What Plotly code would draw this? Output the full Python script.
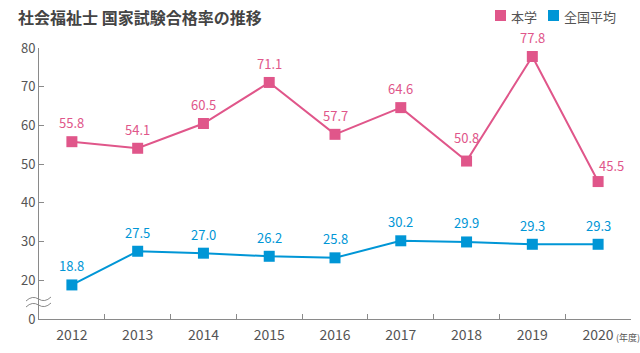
import plotly.graph_objects as go

years = ["2012", "2013", "2014", "2015", "2016", "2017", "2018", "2019", "2020"]
school = [55.8, 54.1, 60.5, 71.1, 57.7, 64.6, 50.8, 77.8, 45.5]
national = [18.8, 27.5, 27.0, 26.2, 25.8, 30.2, 29.9, 29.3, 29.3]
ytick_vals = [10, 20, 30, 40, 50, 60, 70, 80]
ytick_text = ["0", "20", "30", "40", "50", "60", "70", "80"]

PINK = "#e0568a"
BLUE = "#0096d6"
AXIS = "#8a8a8a"
TXT = "#555555"
FONT = "Noto Sans CJK JP"

fig = go.Figure()
fig.add_trace(go.Scatter(x=years, y=school, mode="lines+markers", name="本学",
                         line=dict(color=PINK, width=2),
                         marker=dict(symbol="square", size=11, color=PINK)))
fig.add_trace(go.Scatter(x=years, y=national, mode="lines+markers", name="全国平均",
                         line=dict(color=BLUE, width=2),
                         marker=dict(symbol="square", size=11, color=BLUE)))

# label offsets (pixels) for the school series: default above, special cases
school_xshift = [0, 0, 0, 0, 0, 0, 0, 0, 13]
school_yshift = [19, 19, 19, 19, 19, 19, 24, 19, 16]

ann = []
for i, v in enumerate(school):
    ann.append(dict(x=i, y=v, xref="x", yref="y", text=f"{v:.1f}", showarrow=False,
                    xshift=school_xshift[i], yshift=school_yshift[i],
                    font=dict(family=FONT, size=13, color=PINK)))
for i, v in enumerate(national):
    ann.append(dict(x=i, y=v, xref="x", yref="y", text=f"{v:.1f}", showarrow=False, yshift=19,
                    font=dict(family=FONT, size=13, color=BLUE)))

W, L, R, T, B = 640, 39, 9, 48, 34
PW = W - L - R
PH = 353 - T - B

def px(x):
    return (x - L) / PW

def py(y):
    return (353 - B - y) / PH

ann.append(dict(xref="paper", yref="paper", x=px(16), y=py(17), xanchor="left", yanchor="middle",
                text="<b>社会福祉士 国家試験合格率の推移</b>", showarrow=False,
                font=dict(family=FONT, size=16, color="#444444")))
ann.append(dict(xref="paper", yref="paper", x=px(509), y=py(16), xanchor="left", yanchor="middle",
                text="本学", showarrow=False, font=dict(family=FONT, size=13, color=TXT)))
ann.append(dict(xref="paper", yref="paper", x=px(562), y=py(16), xanchor="left", yanchor="middle",
                text="全国平均", showarrow=False, font=dict(family=FONT, size=13, color=TXT)))
ann.append(dict(xref="paper", yref="paper", x=px(614), y=py(337), xanchor="left", yanchor="middle",
                text="(年度)", showarrow=False, font=dict(family=FONT, size=9, color=TXT)))

shapes = [
    dict(type="rect", xref="paper", yref="paper", x0=px(495), x1=px(506), y0=py(10), y1=py(21),
         fillcolor=PINK, line=dict(width=0)),
    dict(type="rect", xref="paper", yref="paper", x0=px(548), x1=px(559), y0=py(10), y1=py(21),
         fillcolor=BLUE, line=dict(width=0)),
]
# axis break marks (wavy lines)
for yc in (299, 305):
    x0, x1 = px(26), px(51)
    xm = (x0 + x1) / 2
    shapes.append(dict(type="path", xref="paper", yref="paper",
                       path=f"M {x0},{py(yc+2)} Q {(x0+xm)/2},{py(yc-4)} {xm},{py(yc)} T {x1},{py(yc-2)}",
                       line=dict(color=AXIS, width=1)))

fig.update_layout(
    width=640, height=353,
    margin=dict(l=L, r=R, t=T, b=B),
    paper_bgcolor="white", plot_bgcolor="white",
    showlegend=False,
    font=dict(family=FONT, color=TXT, size=13),
    xaxis=dict(type="category", range=[-0.5, 8.5], showline=True, linecolor=AXIS, linewidth=1,
               ticks="inside", tickson="boundaries", ticklen=5, tickcolor=AXIS, showgrid=False,
               zeroline=False, tickfont=dict(family=FONT, size=14, color=TXT), ticklabelstandoff=3),
    yaxis=dict(range=[10, 80], tickvals=ytick_vals, ticktext=ytick_text, showline=True,
               linecolor=AXIS, linewidth=1, ticks="inside", ticklen=5, tickcolor=AXIS,
               showgrid=False, zeroline=False, tickfont=dict(family=FONT, size=13, color=TXT)),
    annotations=ann,
    shapes=shapes,
)
fig.write_html("out.html")
